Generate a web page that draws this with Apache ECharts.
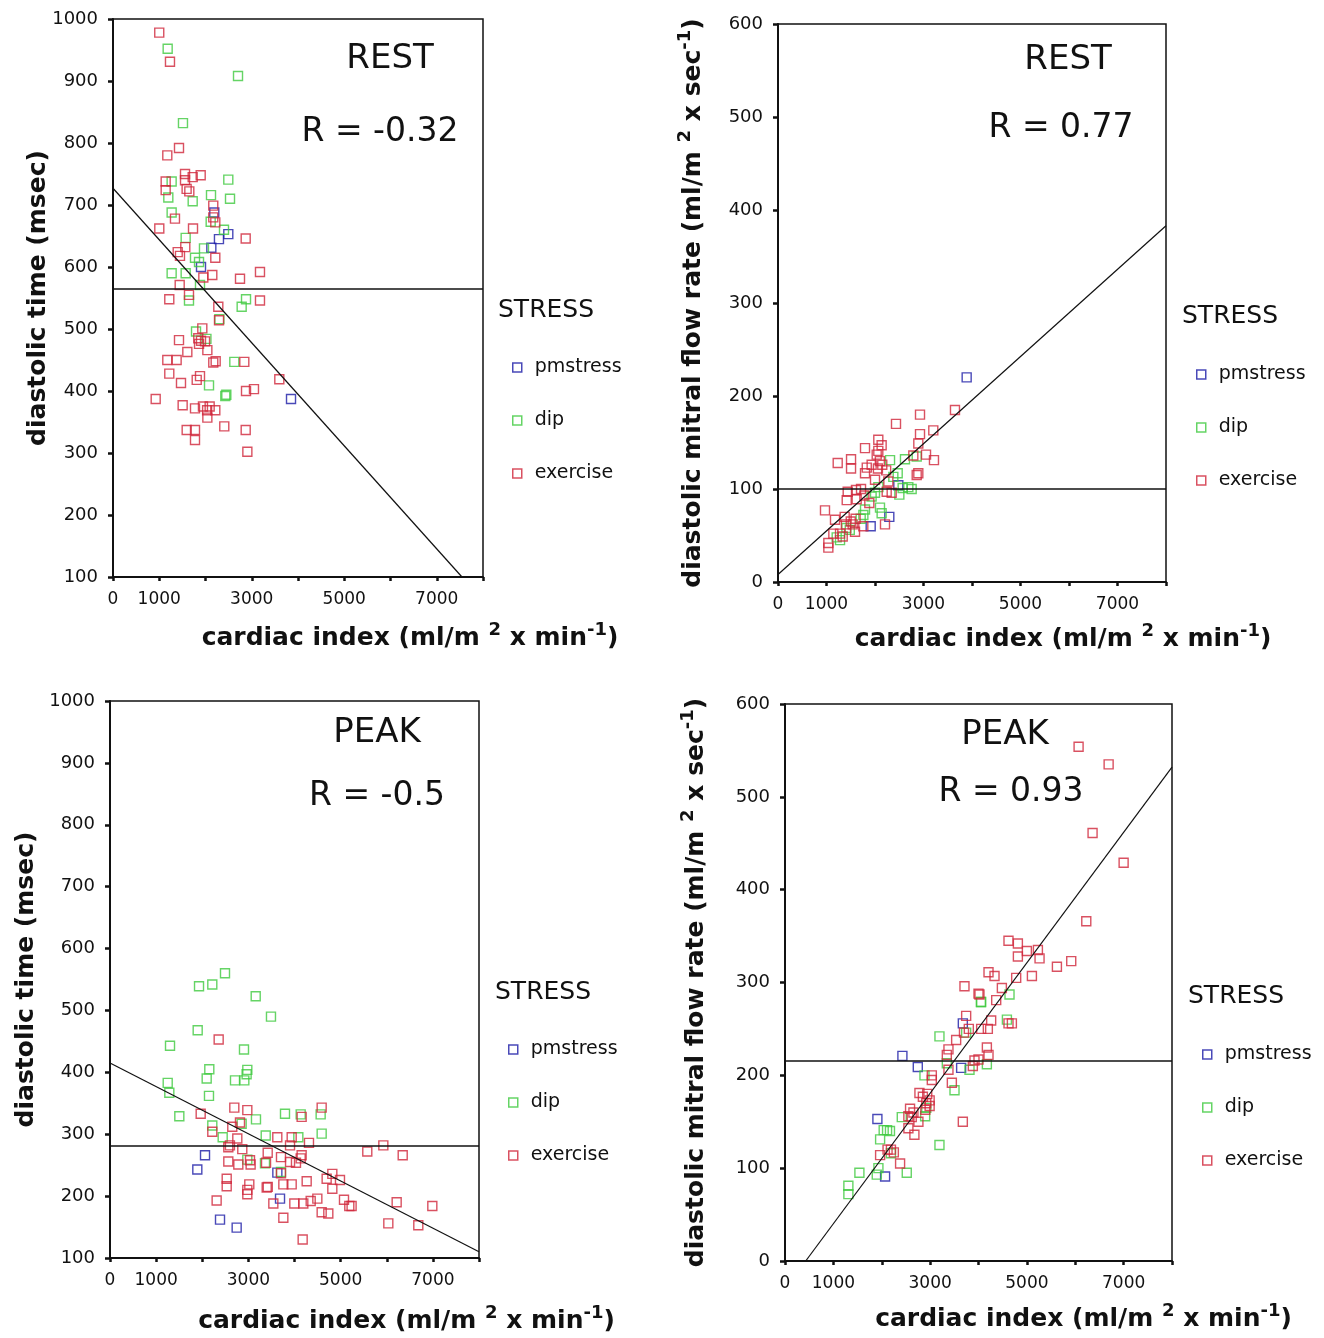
<!DOCTYPE html>
<html>
<head>
<meta charset="utf-8">
<script src="https://cdn.jsdelivr.net/npm/echarts@6/dist/echarts.min.js"></script>
<style>
  html, body { margin: 0; padding: 0; background: #fff; }
  #chart { width: 1324px; height: 1338px; }
</style>
</head>
<body>
<div id="chart"></div>
<script>
// cardiac index (x) vs diastolic time / mitral flow rate (y), by stress type

const restTimePm = [[2190,688],[2493,653],[2291,645],[2126,631],[1903,600],[3849,387]];
const restTimeDip = [[1182,952],[2703,908],[1513,832],[1268,738],[2493,741],[1196,712],[2119,716],[1723,706],[2530,710],[2112,673],[1268,688],[2400,660],[1967,630],[1571,647],[1773,615],[1860,608],[1268,590],[1571,590],[1881,571],[1643,546],[2782,536],[2876,548],[2300,516],[1795,496],[2020,484],[2623,447],[2076,409],[2428,392],[2450,394]];
const restTimeEx = [[1000,978],[1232,931],[1427,792],[1174,780],[1557,750],[1896,748],[1723,745],[1557,740],[1139,738],[1139,724],[1592,726],[1650,722],[2168,699],[2168,680],[2212,672],[1340,678],[1001,662],[1730,662],[2869,646],[1563,632],[1399,624],[1448,618],[2212,615],[2147,587],[1953,583],[2746,581],[3178,592],[1442,571],[1643,555],[1217,548],[3178,546],[2277,536],[2292,514],[1931,501],[1844,485],[1903,481],[1990,480],[1860,476],[2040,466],[1427,482],[1607,463],[1174,450],[1376,450],[2168,446],[2220,448],[2839,447],[1217,428],[1881,424],[1810,418],[1470,413],[3596,419],[2876,400],[3048,403],[923,387],[1506,377],[1773,372],[1945,375],[2090,375],[2212,369],[2035,369],[2040,357],[2406,343],[1593,337],[1773,337],[1773,321],[2869,337],[2905,302]];
const restTimeFit = [[0,727],[7546,100]];
const restTimeMean = 565;

const restFlowPm = [[3890,220],[2481,104],[2295,70],[1911,60]];
const restFlowDip = [[2860,135],[2310,131],[2468,117],[2618,132],[2378,113],[2570,101],[2756,100],[2502,94],[2687,102],[2070,102],[2000,96],[1930,92],[1794,78],[1760,72],[2103,80],[2137,74],[1705,68],[1410,58],[1210,48],[1279,45],[1480,56]];
const restFlowEx = [[3649,185],[2928,180],[2433,170],[3202,163],[2928,159],[2893,149],[2068,153],[1794,144],[2137,147],[2068,141],[2790,136],[3052,137],[3216,131],[1231,128],[1506,132],[1506,122],[2035,137],[2100,130],[2150,126],[2060,122],[1931,126],[1794,117],[1830,123],[2000,110],[2230,120],[2860,115],[2893,117],[2275,108],[2241,97],[2344,96],[1608,99],[1712,100],[1437,97],[1417,88],[1622,89],[1883,85],[1780,93],[2206,62],[969,77],[1175,67],[1375,70],[1400,62],[1500,65],[1540,62],[1600,68],[1759,60],[1588,54],[1141,52],[1279,52],[1334,49],[1038,42],[1038,37]];
const restFlowFit = [[0,8],[8000,383]];
const restFlowMean = 100;

const peakTimePm = [[2060,266],[1893,243],[3628,238],[3686,196],[2385,162],[2746,149]];
const peakTimeDip = [[1930,539],[2218,542],[2493,560],[3159,523],[3490,490],[1901,468],[1301,443],[2905,437],[2153,405],[2977,404],[2096,390],[2962,397],[2710,387],[2912,387],[1251,383],[1286,367],[2146,362],[1503,329],[3165,324],[2854,317],[3794,333],[4134,332],[4567,332],[4589,301],[2218,314],[2443,295],[3376,298],[4083,295],[2977,259],[3360,253],[3707,239]];
const peakTimeEx = [[2356,453],[1966,333],[2695,343],[2977,339],[2818,319],[4155,328],[4589,343],[2218,304],[2651,312],[2760,293],[3627,295],[3939,295],[4314,286],[2565,279],[2600,282],[3903,282],[2868,276],[3419,270],[5578,272],[5926,282],[6346,266],[4155,266],[4134,261],[3707,263],[2565,256],[2782,251],[3035,258],[3049,251],[3383,254],[3903,255],[4032,254],[3707,237],[2530,228],[2530,216],[3020,219],[2977,210],[2977,203],[3397,214],[3420,215],[3758,219],[3939,219],[4264,224],[4697,228],[4820,236],[4820,212],[4986,226],[2312,193],[3541,188],[3996,188],[4191,188],[4351,192],[4495,196],[5073,194],[5188,184],[5238,184],[6215,190],[6988,184],[4589,174],[4733,172],[3758,165],[6034,156],[6684,153],[4177,130]];
const peakTimeFit = [[0,415],[8000,110]];
const peakTimeMean = 282;

const peakFlowPm = [[3676,256],[2427,221],[2745,209],[3641,208],[1910,153],[2069,91]];
const peakFlowDip = [[4049,279],[4641,287],[3745,246],[4587,260],[4055,279],[3193,242],[4173,212],[3814,206],[3345,213],[2883,200],[3504,184],[2920,165],[2897,156],[2414,155],[2110,141],[2170,140],[2040,141],[1966,131],[3193,125],[2190,116],[2517,95],[1538,95],[1931,100],[1897,93],[1310,81],[1310,72]];
const peakFlowEx = [[6069,554],[6690,535],[6358,461],[7000,429],[6228,366],[4620,345],[4814,342],[5000,334],[5228,335],[4814,328],[5262,326],[5621,317],[5917,323],[4207,311],[4331,307],[4779,305],[5104,307],[3710,296],[4000,288],[4483,294],[4366,281],[4020,287],[3745,264],[3700,246],[3800,250],[4620,256],[4690,256],[4262,259],[4193,250],[4055,250],[3379,228],[3345,222],[3538,238],[4173,230],[4207,222],[3917,216],[4000,217],[3883,210],[3379,206],[3035,200],[3035,195],[3449,192],[2779,181],[2850,177],[2940,180],[2990,173],[2920,170],[2900,163],[2990,167],[2585,164],[2655,160],[2550,156],[2620,155],[2758,150],[2551,143],[2675,136],[3676,150],[2190,120],[2250,117],[2120,120],[1966,114],[2379,105]];
const peakFlowFit = [[428,0],[8000,532]];
const peakFlowMean = 216;

const stressNames = ['pmstress', 'dip', 'exercise'];
const stressColors = ['#1c1ca6', '#3fc93f', '#d0263a'];

const FONT = 'DejaVu Sans';
const nameRich = {
    t: { fontFamily: FONT, fontWeight: 'bold', fontSize: 25, color: '#111', lineHeight: 34 },
    s: { fontFamily: FONT, fontWeight: 'bold', fontSize: 18, color: '#111', lineHeight: 20, verticalAlign: 'top' }
};
const xName = '{t|cardiac index (ml/m }{s|2}{t| x min}{s|-1}{t|)}';

const panels = [
    {
        grid: { left: 113, top: 19, width: 370, height: 558 },
        yMin: 100, yMax: 1000,
        yName: '{t|diastolic time (msec)}', yGap: 58,
        xPad: 224, xGap: 44,
        pm: restTimePm, dip: restTimeDip, ex: restTimeEx, fit: restTimeFit, mean: restTimeMean,
        head: 'REST', r: 'R = -0.32', headPos: [390, 59], rPos: [380, 132],
        stressPos: [498, 310], legendPos: [512, 358]
    },
    {
        grid: { left: 778, top: 24, width: 388, height: 558 },
        yMin: 0, yMax: 600,
        yName: '{t|diastolic mitral flow rate (ml/m }{s|2}{t| x sec}{s|-1}{t|)}', yGap: 68,
        xPad: 182, xGap: 40,
        pm: restFlowPm, dip: restFlowDip, ex: restFlowEx, fit: restFlowFit, mean: restFlowMean,
        head: 'REST', r: 'R = 0.77', headPos: [1068, 60], rPos: [1061, 128],
        stressPos: [1182, 316], legendPos: [1196, 365]
    },
    {
        grid: { left: 110, top: 701, width: 369, height: 557 },
        yMin: 100, yMax: 1000,
        yName: '{t|diastolic time (msec)}', yGap: 67,
        xPad: 224, xGap: 46,
        pm: peakTimePm, dip: peakTimeDip, ex: peakTimeEx, fit: peakTimeFit, mean: peakTimeMean,
        head: 'PEAK', r: 'R = -0.5', headPos: [377, 733], rPos: [377, 796],
        stressPos: [495, 992], legendPos: [508, 1040]
    },
    {
        grid: { left: 785, top: 704, width: 387, height: 557 },
        yMin: 0, yMax: 600,
        yName: '{t|diastolic mitral flow rate (ml/m }{s|2}{t| x sec}{s|-1}{t|)}', yGap: 72,
        xPad: 210, xGap: 41,
        pm: peakFlowPm, dip: peakFlowDip, ex: peakFlowEx, fit: peakFlowFit, mean: peakFlowMean,
        head: 'PEAK', r: 'R = 0.93', headPos: [1005, 735], rPos: [1011, 792],
        stressPos: [1188, 996], legendPos: [1202, 1045]
    }
];

const chart = echarts.init(document.getElementById('chart'));

const grids = [], xAxes = [], yAxes = [], series = [], legends = [], graphics = [];

panels.forEach((p, i) => {
    grids.push(Object.assign({
        show: true, borderColor: '#111', borderWidth: 1.5,
        backgroundColor: 'transparent', containLabel: false, outerBoundsMode: 'none'
    }, p.grid));

    xAxes.push({
        type: 'value', gridIndex: i, min: 0, max: 8000, interval: 1000,
        axisLine: { show: true, onZero: false, lineStyle: { color: '#111', width: 2 } },
        axisTick: { show: true, length: 4, lineStyle: { color: '#111', width: 2.5 } },
        splitLine: { show: false },
        axisLabel: {
            color: '#111', fontFamily: FONT, fontSize: 17, margin: 14,
            formatter: v => (v === 0 || (v / 1000) % 2 === 1) ? String(v) : ''
        },
        name: xName, nameLocation: 'middle', nameGap: p.xGap,
        nameTextStyle: { rich: nameRich, padding: [0, 0, 0, p.xPad] }
    });

    yAxes.push({
        type: 'value', gridIndex: i, min: p.yMin, max: p.yMax, interval: 100,
        axisLine: { show: true, onZero: false, lineStyle: { color: '#111', width: 2 } },
        axisTick: { show: true, length: 5, lineStyle: { color: '#111', width: 2.5 } },
        splitLine: { show: false },
        axisLabel: { color: '#111', fontFamily: FONT, fontSize: 18, margin: 15, formatter: v => String(v) },
        name: p.yName, nameLocation: 'middle', nameRotate: 90, nameGap: p.yGap,
        nameMoveOverlap: false,
        nameTextStyle: { rich: nameRich }
    });

    [p.pm, p.dip, p.ex].forEach((pts, k) => {
        series.push({
            name: stressNames[k], type: 'scatter', xAxisIndex: i, yAxisIndex: i,
            symbol: 'rect', symbolSize: 9,
            itemStyle: { color: 'rgba(255,255,255,0)', borderColor: stressColors[k], borderWidth: 1.4 },
            data: pts, silent: true
        });
    });

    series.push({
        name: 'fit' + i, type: 'line', xAxisIndex: i, yAxisIndex: i,
        data: p.fit, symbol: 'none', silent: true,
        lineStyle: { color: '#111', width: 1.2 },
        markLine: {
            silent: true, symbol: 'none', label: { show: false },
            lineStyle: { color: '#111', width: 1.6, type: 'solid' },
            data: [{ yAxis: p.mean }]
        }
    });

    legends.push({
        data: stressNames, orient: 'vertical', left: p.legendPos[0], top: p.legendPos[1],
        padding: 0, itemWidth: 9, itemHeight: 9, itemGap: 34, icon: 'rect',
        itemStyle: { borderWidth: 1.5 },
        textStyle: { fontFamily: FONT, fontSize: 19, color: '#111', padding: [0, 0, 0, 8] },
        selectedMode: false
    });

    graphics.push(
        { type: 'text', x: p.headPos[0], y: p.headPos[1],
          style: { text: p.head, font: '34px "DejaVu Sans"', fill: '#111', textAlign: 'center', textVerticalAlign: 'middle' } },
        { type: 'text', x: p.rPos[0], y: p.rPos[1],
          style: { text: p.r, font: '33px "DejaVu Sans"', fill: '#111', textAlign: 'center', textVerticalAlign: 'middle' } },
        { type: 'text', x: p.stressPos[0], y: p.stressPos[1],
          style: { text: 'STRESS', font: '25px "DejaVu Sans"', fill: '#111', textAlign: 'left', textVerticalAlign: 'middle' } }
    );
});

chart.setOption({
    animation: false,
    backgroundColor: '#fff',
    grid: grids,
    xAxis: xAxes,
    yAxis: yAxes,
    legend: legends,
    graphic: graphics,
    series: series
});

window.addEventListener('resize', chart.resize);
</script>
</body>
</html>
